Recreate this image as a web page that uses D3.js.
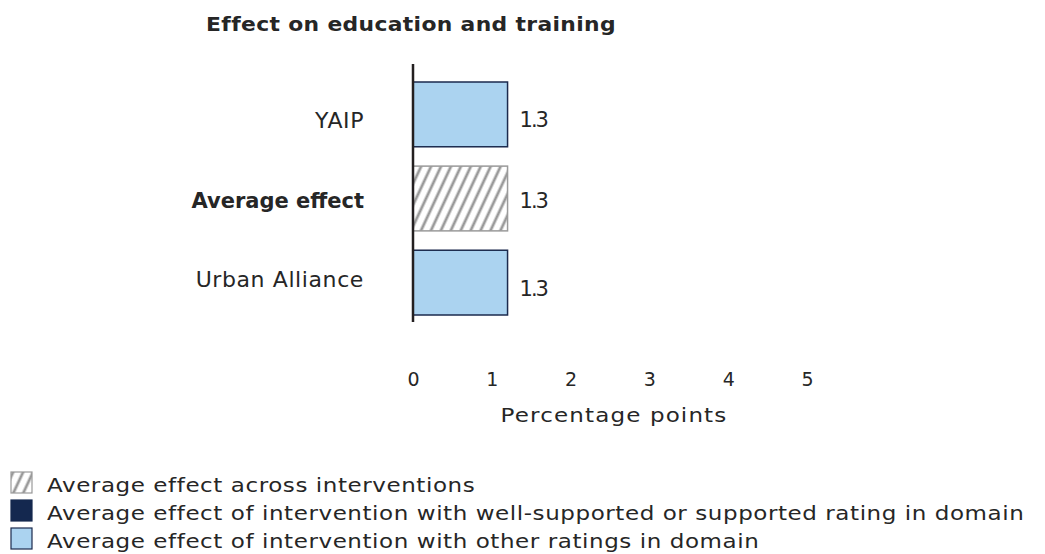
<!DOCTYPE html>
<html>
<head>
<meta charset="utf-8">
<script src="https://cdn.jsdelivr.net/npm/d3@7"></script>
<style>
  body { margin: 0; background: #fff; }
  text { font-family: "DejaVu Sans", "Noto Sans", sans-serif; fill: #262626; }
</style>
</head>
<body>
<div id="chart"></div>
<script>
// Data
const categories = ["YAIP", "Average effect", "Urban Alliance"];
const barValues = [1.2, 1.2, 1.2];
const valueLabels = ["1.3", "1.3", "1.3"];
const barKinds = ["other", "average", "other"];
const xTicks = [0, 1, 2, 3, 4, 5];
const legendLabels = [
  "Average effect across interventions",
  "Average effect of intervention with well-supported or supported rating in domain",
  "Average effect of intervention with other ratings in domain"
];
const legendKinds = ["average", "supported", "other"];

const width = 1045, height = 554;
const fills = { other: "#abd3f0", supported: "#14284f", average: "url(#hatch)" };
const strokes = { other: "#1b2a4e", supported: "#14284f", average: "#9a9a9a" };

// the original font is a wide geometric sans, so stretch DejaVu a little
const stretch = (px, py, sx) => `translate(${px},${py}) scale(${sx},1)`;

const svg = d3.select("#chart").append("svg")
  .attr("width", width).attr("height", height);

// Hatch pattern for the average bar
const pat = svg.append("defs").append("pattern")
  .attr("id", "hatch")
  .attr("patternUnits", "userSpaceOnUse")
  .attr("width", 9).attr("height", 9)
  .attr("patternTransform", "rotate(25)");
pat.append("rect").attr("width", 9).attr("height", 9).attr("fill", "#fff");
pat.append("line")
  .attr("x1", 2).attr("y1", 0).attr("x2", 2).attr("y2", 9)
  .attr("stroke", "#9a9a9a").attr("stroke-width", 2.8);

// Scales
const x = d3.scaleLinear().domain([0, 5]).range([413, 807]);
const y = d3.scaleBand().domain(categories).range([82, 315]).paddingInner(0.23);
// label baselines sit a little off the bar centres in the original
const yLabel = d3.scalePoint().domain(categories).range([128, 287]);

// Title
svg.append("text")
  .attr("transform", stretch(411, 31, 1.15))
  .attr("text-anchor", "middle")
  .attr("font-size", 19).attr("font-weight", 700)
  .attr("letter-spacing", 0.3)
  .text("Effect on education and training");

// Bars
svg.append("g").selectAll("rect")
  .data(categories)
  .join("rect")
  .attr("x", x(0))
  .attr("y", d => y(d))
  .attr("width", (d, i) => x(barValues[i]) - x(0))
  .attr("height", y.bandwidth())
  .attr("fill", (d, i) => fills[barKinds[i]])
  .attr("stroke", (d, i) => strokes[barKinds[i]])
  .attr("stroke-width", 1.5);

// Value labels
svg.append("g").selectAll("text")
  .data(categories)
  .join("text")
  .attr("x", (d, i) => x(barValues[i]) + 12)
  .attr("y", (d, i) => y(d) + y.bandwidth() / 2 + (i === 1 ? 9 : 13))
  .attr("font-size", 21)
  .attr("letter-spacing", -2)
  .text((d, i) => valueLabels[i]);

// Category labels
svg.append("g").selectAll("text")
  .data(categories)
  .join("text")
  .attr("x", 364)
  .attr("y", d => yLabel(d))
  .attr("text-anchor", "end")
  .attr("font-size", (d, i) => barKinds[i] === "average" ? 21 : 22)
  .attr("letter-spacing", (d, i) => barKinds[i] === "average" ? 0 : 0.6)
  .attr("font-weight", (d, i) => barKinds[i] === "average" ? 700 : 400)
  .text(d => d);

// Vertical axis line
svg.append("line")
  .attr("x1", x(0)).attr("x2", x(0))
  .attr("y1", 64).attr("y2", 322)
  .attr("stroke", "#231f20").attr("stroke-width", 2.5);

// X tick labels (no axis line)
const xAxis = d3.axisBottom(x).tickValues(xTicks).tickSize(0).tickPadding(0).tickFormat(d3.format("d"));
const xg = svg.append("g").attr("transform", "translate(0,372)").call(xAxis);
xg.select(".domain").remove();
xg.selectAll("text")
  .attr("font-size", 19)
  .attr("font-family", "'DejaVu Sans', 'Noto Sans', sans-serif")
  .attr("fill", "#262626");

svg.append("text")
  .attr("transform", stretch(614, 422, 1.15))
  .attr("text-anchor", "middle")
  .attr("font-size", 20)
  .attr("letter-spacing", 1)
  .text("Percentage points");

// Legend
const legend = svg.append("g").selectAll("g")
  .data(legendLabels)
  .join("g")
  .attr("transform", (d, i) => `translate(11,${472 + i * 28})`);
legend.append("rect")
  .attr("width", 21).attr("height", 21)
  .attr("fill", (d, i) => fills[legendKinds[i]])
  .attr("stroke", (d, i) => strokes[legendKinds[i]])
  .attr("stroke-width", 1.2);
legend.append("text")
  .attr("transform", stretch(36, 20, 1.15))
  .attr("font-size", 20)
  .attr("letter-spacing", 0.5)
  .text(d => d);
</script>
</body>
</html>
